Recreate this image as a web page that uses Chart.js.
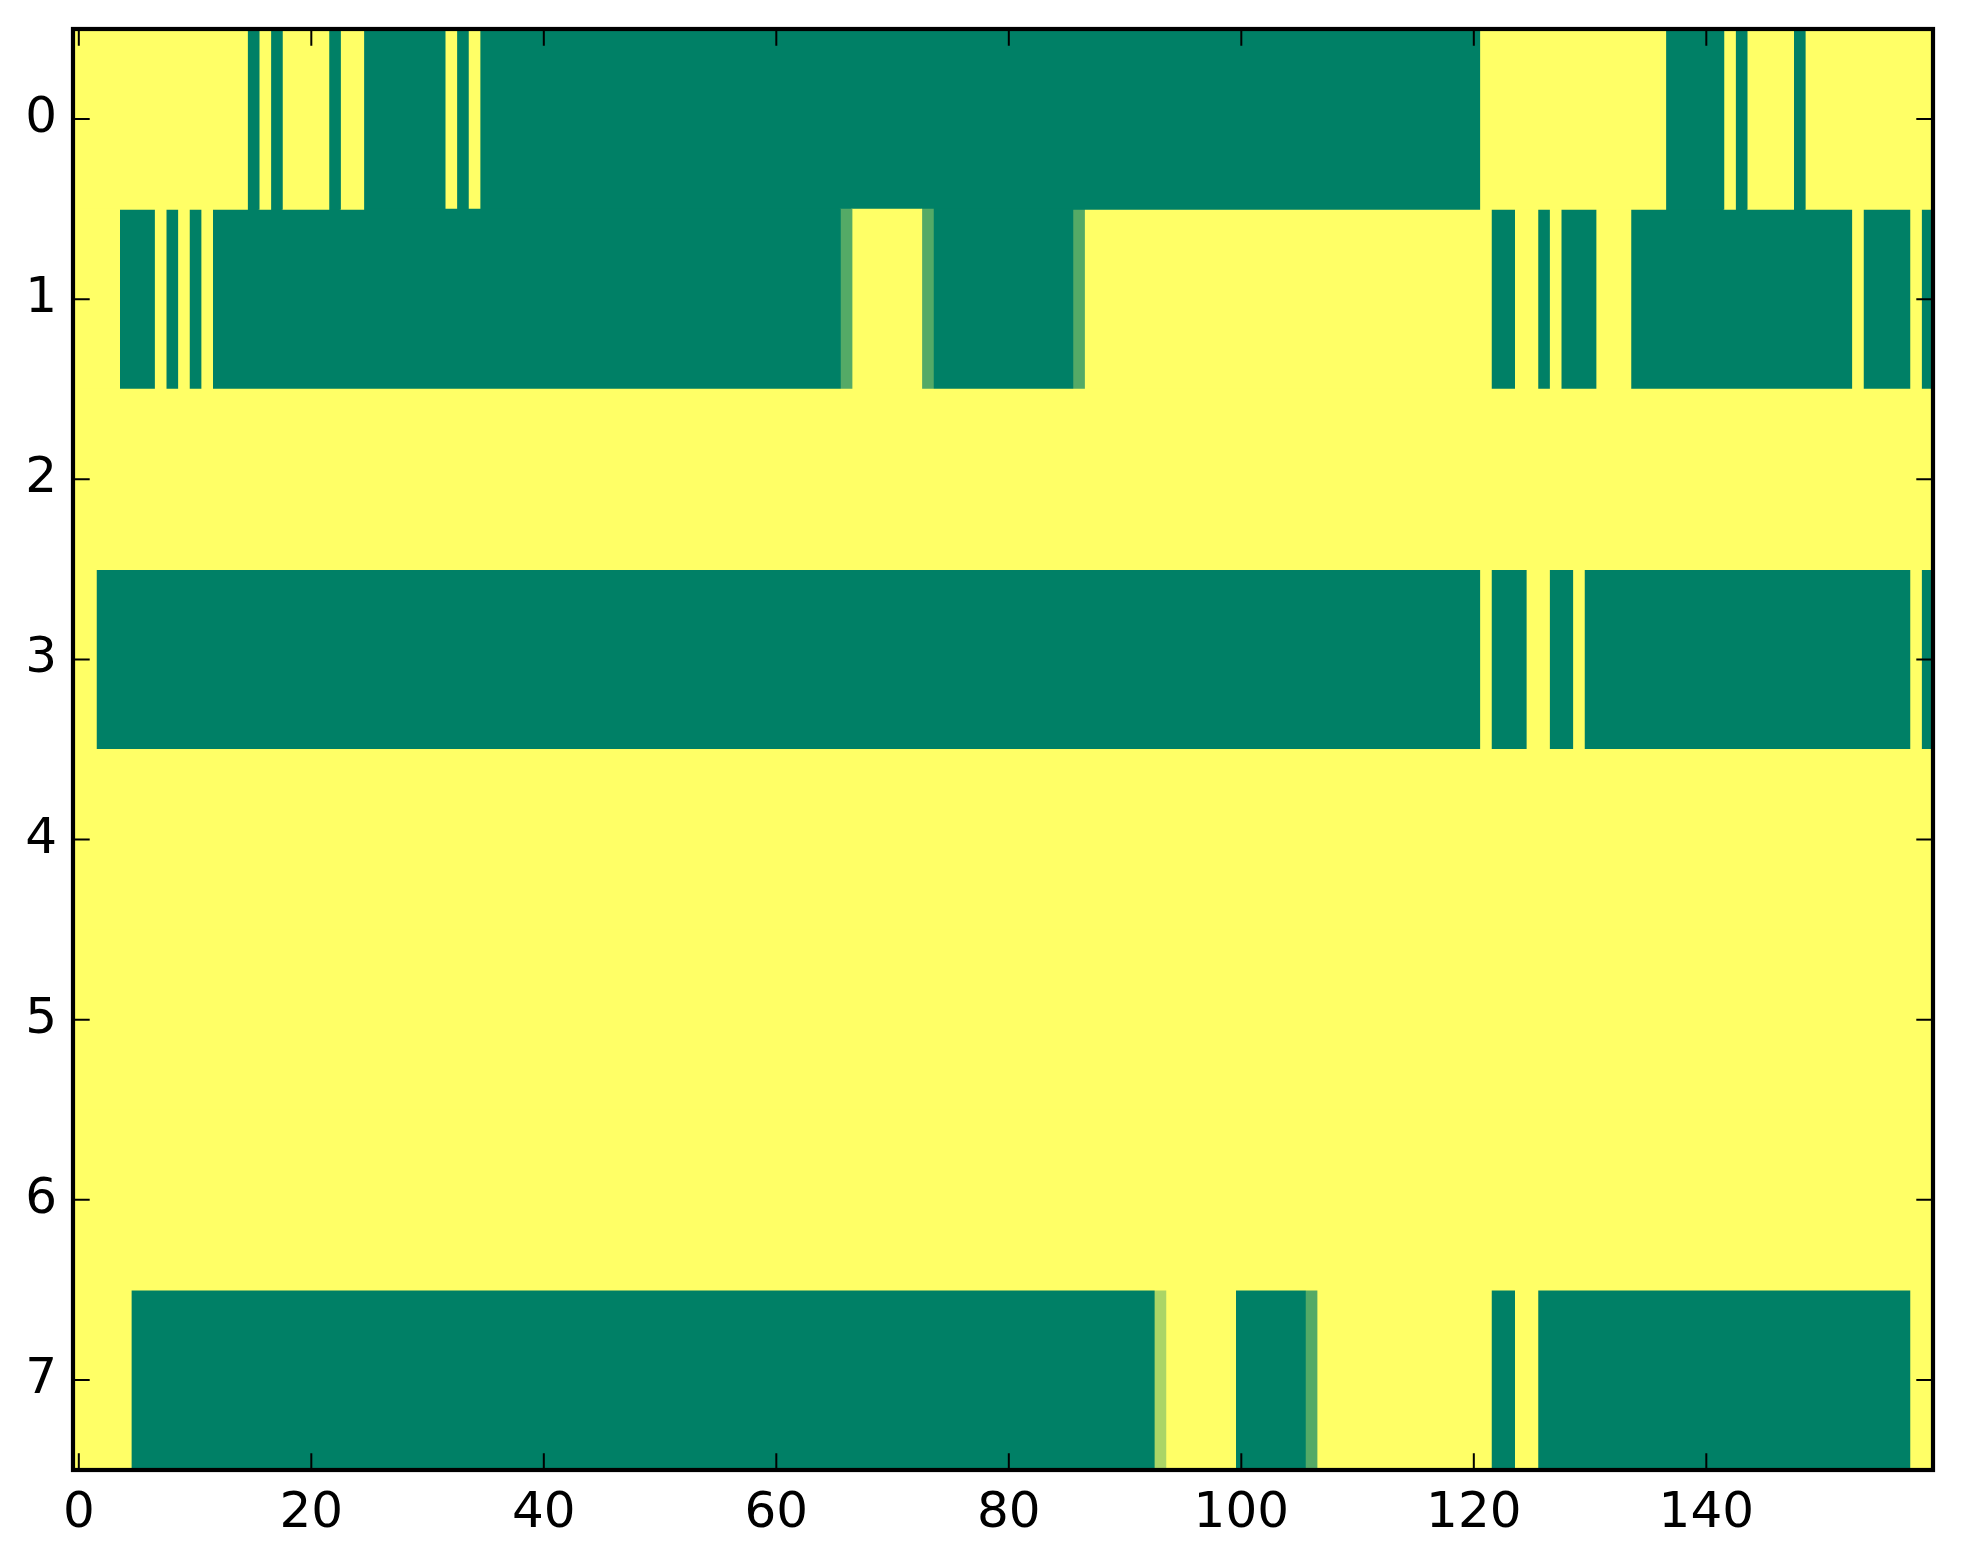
<!DOCTYPE html>
<html>
<head>
    <title>Heatmap</title>
    <meta charset="utf-8">
    <script src="https://cdn.jsdelivr.net/npm/chart.js@4"></script>
    <style>
        html, body { margin: 0; padding: 0; background: #fff; }
        #chart { display: block; }
    </style>
</head>
<body>
    <canvas id="chart" width="1963" height="1564"></canvas>
    <script>
        // Row labels (y axis) and x axis tick values
        var rowLabels = ['0', '1', '2', '3', '4', '5', '6', '7'];
        var xTicks = [0, 20, 40, 60, 80, 100, 120, 140];

        // Cell values per row, columns 0..159 (0 = dark green, 1 = yellow)
        var row0 = [
            1,1,1,1,1,1,1,1,1,1,1,1,1,1,1,0,1,0,1,1,
            1,1,0,1,1,0,0,0,0,0,0,0,1,0,1,0,0,0,0,0,
            0,0,0,0,0,0,0,0,0,0,0,0,0,0,0,0,0,0,0,0,
            0,0,0,0,0,0,0,0,0,0,0,0,0,0,0,0,0,0,0,0,
            0,0,0,0,0,0,0,0,0,0,0,0,0,0,0,0,0,0,0,0,
            0,0,0,0,0,0,0,0,0,0,0,0,0,0,0,0,0,0,0,0,
            0,1,1,1,1,1,1,1,1,1,1,1,1,1,1,1,1,0,0,0,
            0,0,1,0,1,1,1,1,0,1,1,1,1,1,1,1,1,1,1,1
        ];
        var row1 = [
            1,1,1,1,0,0,0,1,0,1,0,1,0,0,0,0,0,0,0,0,
            0,0,0,0,0,0,0,0,0,0,0,0,0,0,0,0,0,0,0,0,
            0,0,0,0,0,0,0,0,0,0,0,0,0,0,0,0,0,0,0,0,
            0,0,0,0,0,0,0.33,1,1,1,1,1,1,0.33,0,0,0,0,0,0,
            0,0,0,0,0,0,0.33,1,1,1,1,1,1,1,1,1,1,1,1,1,
            1,1,1,1,1,1,1,1,1,1,1,1,1,1,1,1,1,1,1,1,
            1,1,0,0,1,1,0,1,0,0,0,1,1,1,0,0,0,0,0,0,
            0,0,0,0,0,0,0,0,0,0,0,0,0,1,0,0,0,0,1,0
        ];
        var row2 = [
            1,1,1,1,1,1,1,1,1,1,1,1,1,1,1,1,1,1,1,1,
            1,1,1,1,1,1,1,1,1,1,1,1,1,1,1,1,1,1,1,1,
            1,1,1,1,1,1,1,1,1,1,1,1,1,1,1,1,1,1,1,1,
            1,1,1,1,1,1,1,1,1,1,1,1,1,1,1,1,1,1,1,1,
            1,1,1,1,1,1,1,1,1,1,1,1,1,1,1,1,1,1,1,1,
            1,1,1,1,1,1,1,1,1,1,1,1,1,1,1,1,1,1,1,1,
            1,1,1,1,1,1,1,1,1,1,1,1,1,1,1,1,1,1,1,1,
            1,1,1,1,1,1,1,1,1,1,1,1,1,1,1,1,1,1,1,1
        ];
        var row3 = [
            1,1,0,0,0,0,0,0,0,0,0,0,0,0,0,0,0,0,0,0,
            0,0,0,0,0,0,0,0,0,0,0,0,0,0,0,0,0,0,0,0,
            0,0,0,0,0,0,0,0,0,0,0,0,0,0,0,0,0,0,0,0,
            0,0,0,0,0,0,0,0,0,0,0,0,0,0,0,0,0,0,0,0,
            0,0,0,0,0,0,0,0,0,0,0,0,0,0,0,0,0,0,0,0,
            0,0,0,0,0,0,0,0,0,0,0,0,0,0,0,0,0,0,0,0,
            0,1,0,0,0,1,1,0,0,1,0,0,0,0,0,0,0,0,0,0,
            0,0,0,0,0,0,0,0,0,0,0,0,0,0,0,0,0,0,1,0
        ];
        var row4 = [
            1,1,1,1,1,1,1,1,1,1,1,1,1,1,1,1,1,1,1,1,
            1,1,1,1,1,1,1,1,1,1,1,1,1,1,1,1,1,1,1,1,
            1,1,1,1,1,1,1,1,1,1,1,1,1,1,1,1,1,1,1,1,
            1,1,1,1,1,1,1,1,1,1,1,1,1,1,1,1,1,1,1,1,
            1,1,1,1,1,1,1,1,1,1,1,1,1,1,1,1,1,1,1,1,
            1,1,1,1,1,1,1,1,1,1,1,1,1,1,1,1,1,1,1,1,
            1,1,1,1,1,1,1,1,1,1,1,1,1,1,1,1,1,1,1,1,
            1,1,1,1,1,1,1,1,1,1,1,1,1,1,1,1,1,1,1,1
        ];
        var row5 = [
            1,1,1,1,1,1,1,1,1,1,1,1,1,1,1,1,1,1,1,1,
            1,1,1,1,1,1,1,1,1,1,1,1,1,1,1,1,1,1,1,1,
            1,1,1,1,1,1,1,1,1,1,1,1,1,1,1,1,1,1,1,1,
            1,1,1,1,1,1,1,1,1,1,1,1,1,1,1,1,1,1,1,1,
            1,1,1,1,1,1,1,1,1,1,1,1,1,1,1,1,1,1,1,1,
            1,1,1,1,1,1,1,1,1,1,1,1,1,1,1,1,1,1,1,1,
            1,1,1,1,1,1,1,1,1,1,1,1,1,1,1,1,1,1,1,1,
            1,1,1,1,1,1,1,1,1,1,1,1,1,1,1,1,1,1,1,1
        ];
        var row6 = [
            1,1,1,1,1,1,1,1,1,1,1,1,1,1,1,1,1,1,1,1,
            1,1,1,1,1,1,1,1,1,1,1,1,1,1,1,1,1,1,1,1,
            1,1,1,1,1,1,1,1,1,1,1,1,1,1,1,1,1,1,1,1,
            1,1,1,1,1,1,1,1,1,1,1,1,1,1,1,1,1,1,1,1,
            1,1,1,1,1,1,1,1,1,1,1,1,1,1,1,1,1,1,1,1,
            1,1,1,1,1,1,1,1,1,1,1,1,1,1,1,1,1,1,1,1,
            1,1,1,1,1,1,1,1,1,1,1,1,1,1,1,1,1,1,1,1,
            1,1,1,1,1,1,1,1,1,1,1,1,1,1,1,1,1,1,1,1
        ];
        var row7 = [
            1,1,1,1,1,0,0,0,0,0,0,0,0,0,0,0,0,0,0,0,
            0,0,0,0,0,0,0,0,0,0,0,0,0,0,0,0,0,0,0,0,
            0,0,0,0,0,0,0,0,0,0,0,0,0,0,0,0,0,0,0,0,
            0,0,0,0,0,0,0,0,0,0,0,0,0,0,0,0,0,0,0,0,
            0,0,0,0,0,0,0,0,0,0,0,0,0,0.67,1,1,1,1,1,1,
            0,0,0,0,0,0,0.33,1,1,1,1,1,1,1,1,1,1,1,1,1,
            1,1,0,0,1,1,0,0,0,0,0,0,0,0,0,0,0,0,0,0,
            0,0,0,0,0,0,0,0,0,0,0,0,0,0,0,0,0,0,1,1
        ];
        var rows = [row0, row1, row2, row3, row4, row5, row6, row7];
        var nCols = row0.length;

        // matplotlib "summer" colormap
        function summer(v) {
            var r = Math.round(255 * v);
            var g = Math.round(255 * (0.5 + 0.5 * v));
            return 'rgb(' + r + ',' + g + ',102)';
        }

        // Merge neighbouring equal cells into runs; each run is one floating bar
        var runs = rows.map(function(row) {
            var out = [], start = 0;
            for (var c = 1; c <= row.length; c++) {
                if (c === row.length || row[c] !== row[start]) {
                    out.push({ from: start - 0.5, to: c - 0.5, v: row[start] });
                    start = c;
                }
            }
            return out;
        });
        var maxRuns = Math.max.apply(null, runs.map(function(r) { return r.length; }));

        var datasets = [];
        for (var k = 0; k < maxRuns; k++) {
            datasets.push({
                data: runs.map(function(r) { return r[k] ? [r[k].from, r[k].to] : null; }),
                backgroundColor: runs.map(function(r) { return r[k] ? summer(r[k].v) : 'rgba(0,0,0,0)'; }),
                borderWidth: 0,
                barPercentage: 1,
                categoryPercentage: 1,
                grouped: false,
                inflateAmount: 0.5
            });
        }

        // Axes frame and inward ticks on all four sides (matplotlib classic look)
        var framePlugin = {
            id: 'frame',
            afterDraw: function(chart) {
                var ctx = chart.ctx, a = chart.chartArea;
                var xs = chart.scales.x, ys = chart.scales.y;
                var len = 16.7;
                ctx.save();
                ctx.strokeStyle = '#000';
                ctx.lineWidth = 2;
                ctx.beginPath();
                xTicks.forEach(function(v) {
                    var px = xs.getPixelForValue(v);
                    ctx.moveTo(px, a.bottom); ctx.lineTo(px, a.bottom - len);
                    ctx.moveTo(px, a.top); ctx.lineTo(px, a.top + len);
                });
                ys.ticks.forEach(function(t, i) {
                    var py = ys.getPixelForTick(i);
                    ctx.moveTo(a.left, py); ctx.lineTo(a.left + len, py);
                    ctx.moveTo(a.right, py); ctx.lineTo(a.right - len, py);
                });
                ctx.stroke();
                ctx.lineWidth = 4.2;
                ctx.strokeRect(a.left, a.top, a.right - a.left, a.bottom - a.top);
                ctx.restore();
            }
        };

        var tickFont = { family: 'DejaVu Sans', size: 50 };

        new Chart(document.getElementById('chart'), {
            type: 'bar',
            data: {
                labels: rowLabels,
                datasets: datasets
            },
            options: {
                indexAxis: 'y',
                responsive: false,
                devicePixelRatio: 1,
                animation: false,
                layout: { padding: { top: 29, right: 30, left: 0, bottom: 0 } },
                plugins: {
                    legend: { display: false },
                    tooltip: { enabled: false }
                },
                scales: {
                    x: {
                        type: 'linear',
                        min: -0.5,
                        max: nCols - 0.5,
                        afterBuildTicks: function(s) {
                            s.ticks = xTicks.map(function(v) { return { value: v }; });
                        },
                        afterFit: function(s) {
                            s.height = 94;
                            s.paddingLeft = 0;
                            s.paddingRight = 0;
                        },
                        grid: { display: false, drawTicks: false },
                        border: { display: false },
                        ticks: { padding: 14, color: '#000', font: tickFont, maxRotation: 0 }
                    },
                    y: {
                        type: 'category',
                        afterFit: function(s) {
                            s.width = 73;
                            s.paddingTop = 0;
                            s.paddingBottom = 0;
                        },
                        grid: { display: false, drawTicks: false },
                        border: { display: false },
                        ticks: { padding: 16, color: '#000', font: tickFont }
                    }
                }
            },
            plugins: [framePlugin]
        });
    </script>
</body>
</html>
